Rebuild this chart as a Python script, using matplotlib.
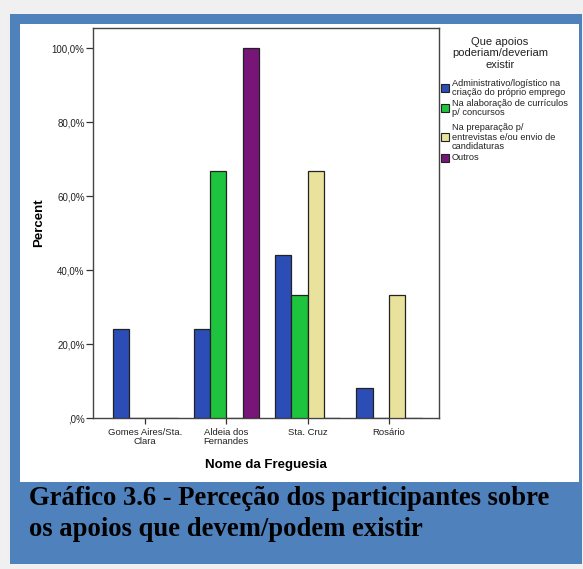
import matplotlib
matplotlib.use("Agg")
import matplotlib.pyplot as plt
from matplotlib.patches import Rectangle
import numpy as np

W, H = 583, 569

categories = ["Gomes Aires/Sta.\nClara", "Aldeia dos\nFernandes", "Sta. Cruz", "Rosário"]
series_names = ["Administrativo/logístico na\ncriação do próprio emprego",
                "Na alaboração de currículos\np/ concursos",
                "Na preparação p/\nentrevistas e/ou envio de\ncandidaturas",
                "Outros"]
admin = [24.0, 24.0, 44.0, 8.0]
curriculos = [0.0, 66.7, 33.3, 0.0]
entrevistas = [0.0, 0.0, 66.7, 33.3]
outros = [0.0, 100.0, 0.0, 0.0]
yticks = [0, 20, 40, 60, 80, 100]
ytick_labels = [",0%", "20,0%", "40,0%", "60,0%", "80,0%", "100,0%"]
colors = ["#2c4db6", "#1ec43d", "#e8e29c", "#781578"]
legend_title = "Que apoios\npoderiam/deveriam\nexistir"
title = "Gráfico 3.6 - Perceção dos participantes sobre\nos apoios que devem/podem existir"

plt.rcParams['font.family'] = ['Liberation Sans', 'DejaVu Sans']

fig = plt.figure(figsize=(W / 100, H / 100), dpi=100)
fig.patch.set_facecolor("#f0f0f0")


def fx(x):
    return x / W


def fy(y):
    return 1 - y / H


def rect(x0, y0, x1, y1, color, z=-10, ec="none", lw=0):
    fig.patches.append(Rectangle((fx(x0), fy(y1)), (x1 - x0) / W, (y1 - y0) / H,
                                 transform=fig.transFigure, facecolor=color,
                                 edgecolor=ec, linewidth=lw, zorder=z))


rect(10, 14, 582, 564, "#4f81bd", z=-20)
rect(20, 24, 579, 482, "white", z=-15)

ax = fig.add_axes([fx(93), fy(418), (439 - 93) / W, (418 - 28) / H])
ax.set_zorder(1)
ax.set_facecolor("white")

x = np.arange(len(categories))
bw = 0.2
series = [admin, curriculos, entrevistas, outros]
for i, (vals, c) in enumerate(zip(series, colors)):
    ax.bar(x + (i - 1.5) * bw, vals, width=bw, color=c, edgecolor="#222222",
           linewidth=0.9, zorder=3)

ax.set_xlim(-0.64, 3.615)
ax.set_ylim(0, 105.5)
ax.set_yticks(yticks)
ax.set_yticklabels(ytick_labels, fontsize=7, color="#222222")
ax.set_xticks(x)
ax.set_xticklabels(categories, fontsize=6.8, color="#222222", linespacing=1.05)
ax.tick_params(axis="y", length=5, width=0.9, color="#333333", pad=1)
ax.tick_params(axis="x", length=4, width=0.9, color="#333333", pad=3)
for s in ax.spines.values():
    s.set_color("#444444")
    s.set_linewidth(1.0)

ax.set_ylabel("Percent", fontsize=9.5, fontweight="bold", labelpad=5)
ax.set_xlabel("Nome da Freguesia", fontsize=9.5, fontweight="bold", labelpad=9)

# legend
fig.text(fx(500), fy(53.5), legend_title, ha="center", va="center", fontsize=8,
         color="#222222", linespacing=1.2, zorder=5)
entry_centers = [88, 108, 137, 158]
for name, c, yc in zip(series_names, colors, entry_centers):
    rect(441, yc - 4, 449, yc + 4, c, z=5, ec="#222222", lw=0.8)
    fig.text(fx(451.5), fy(yc), name, ha="left", va="center", fontsize=6.7,
             color="#222222", linespacing=1.05, zorder=5)

fig.text(fx(29), fy(514), title, ha="left", va="center", fontsize=19.2,
         fontweight="bold", family=["Liberation Serif", "DejaVu Serif"],
         color="black", linespacing=1.32, zorder=5)

fig.savefig("out.png", dpi=100, facecolor=fig.get_facecolor())
